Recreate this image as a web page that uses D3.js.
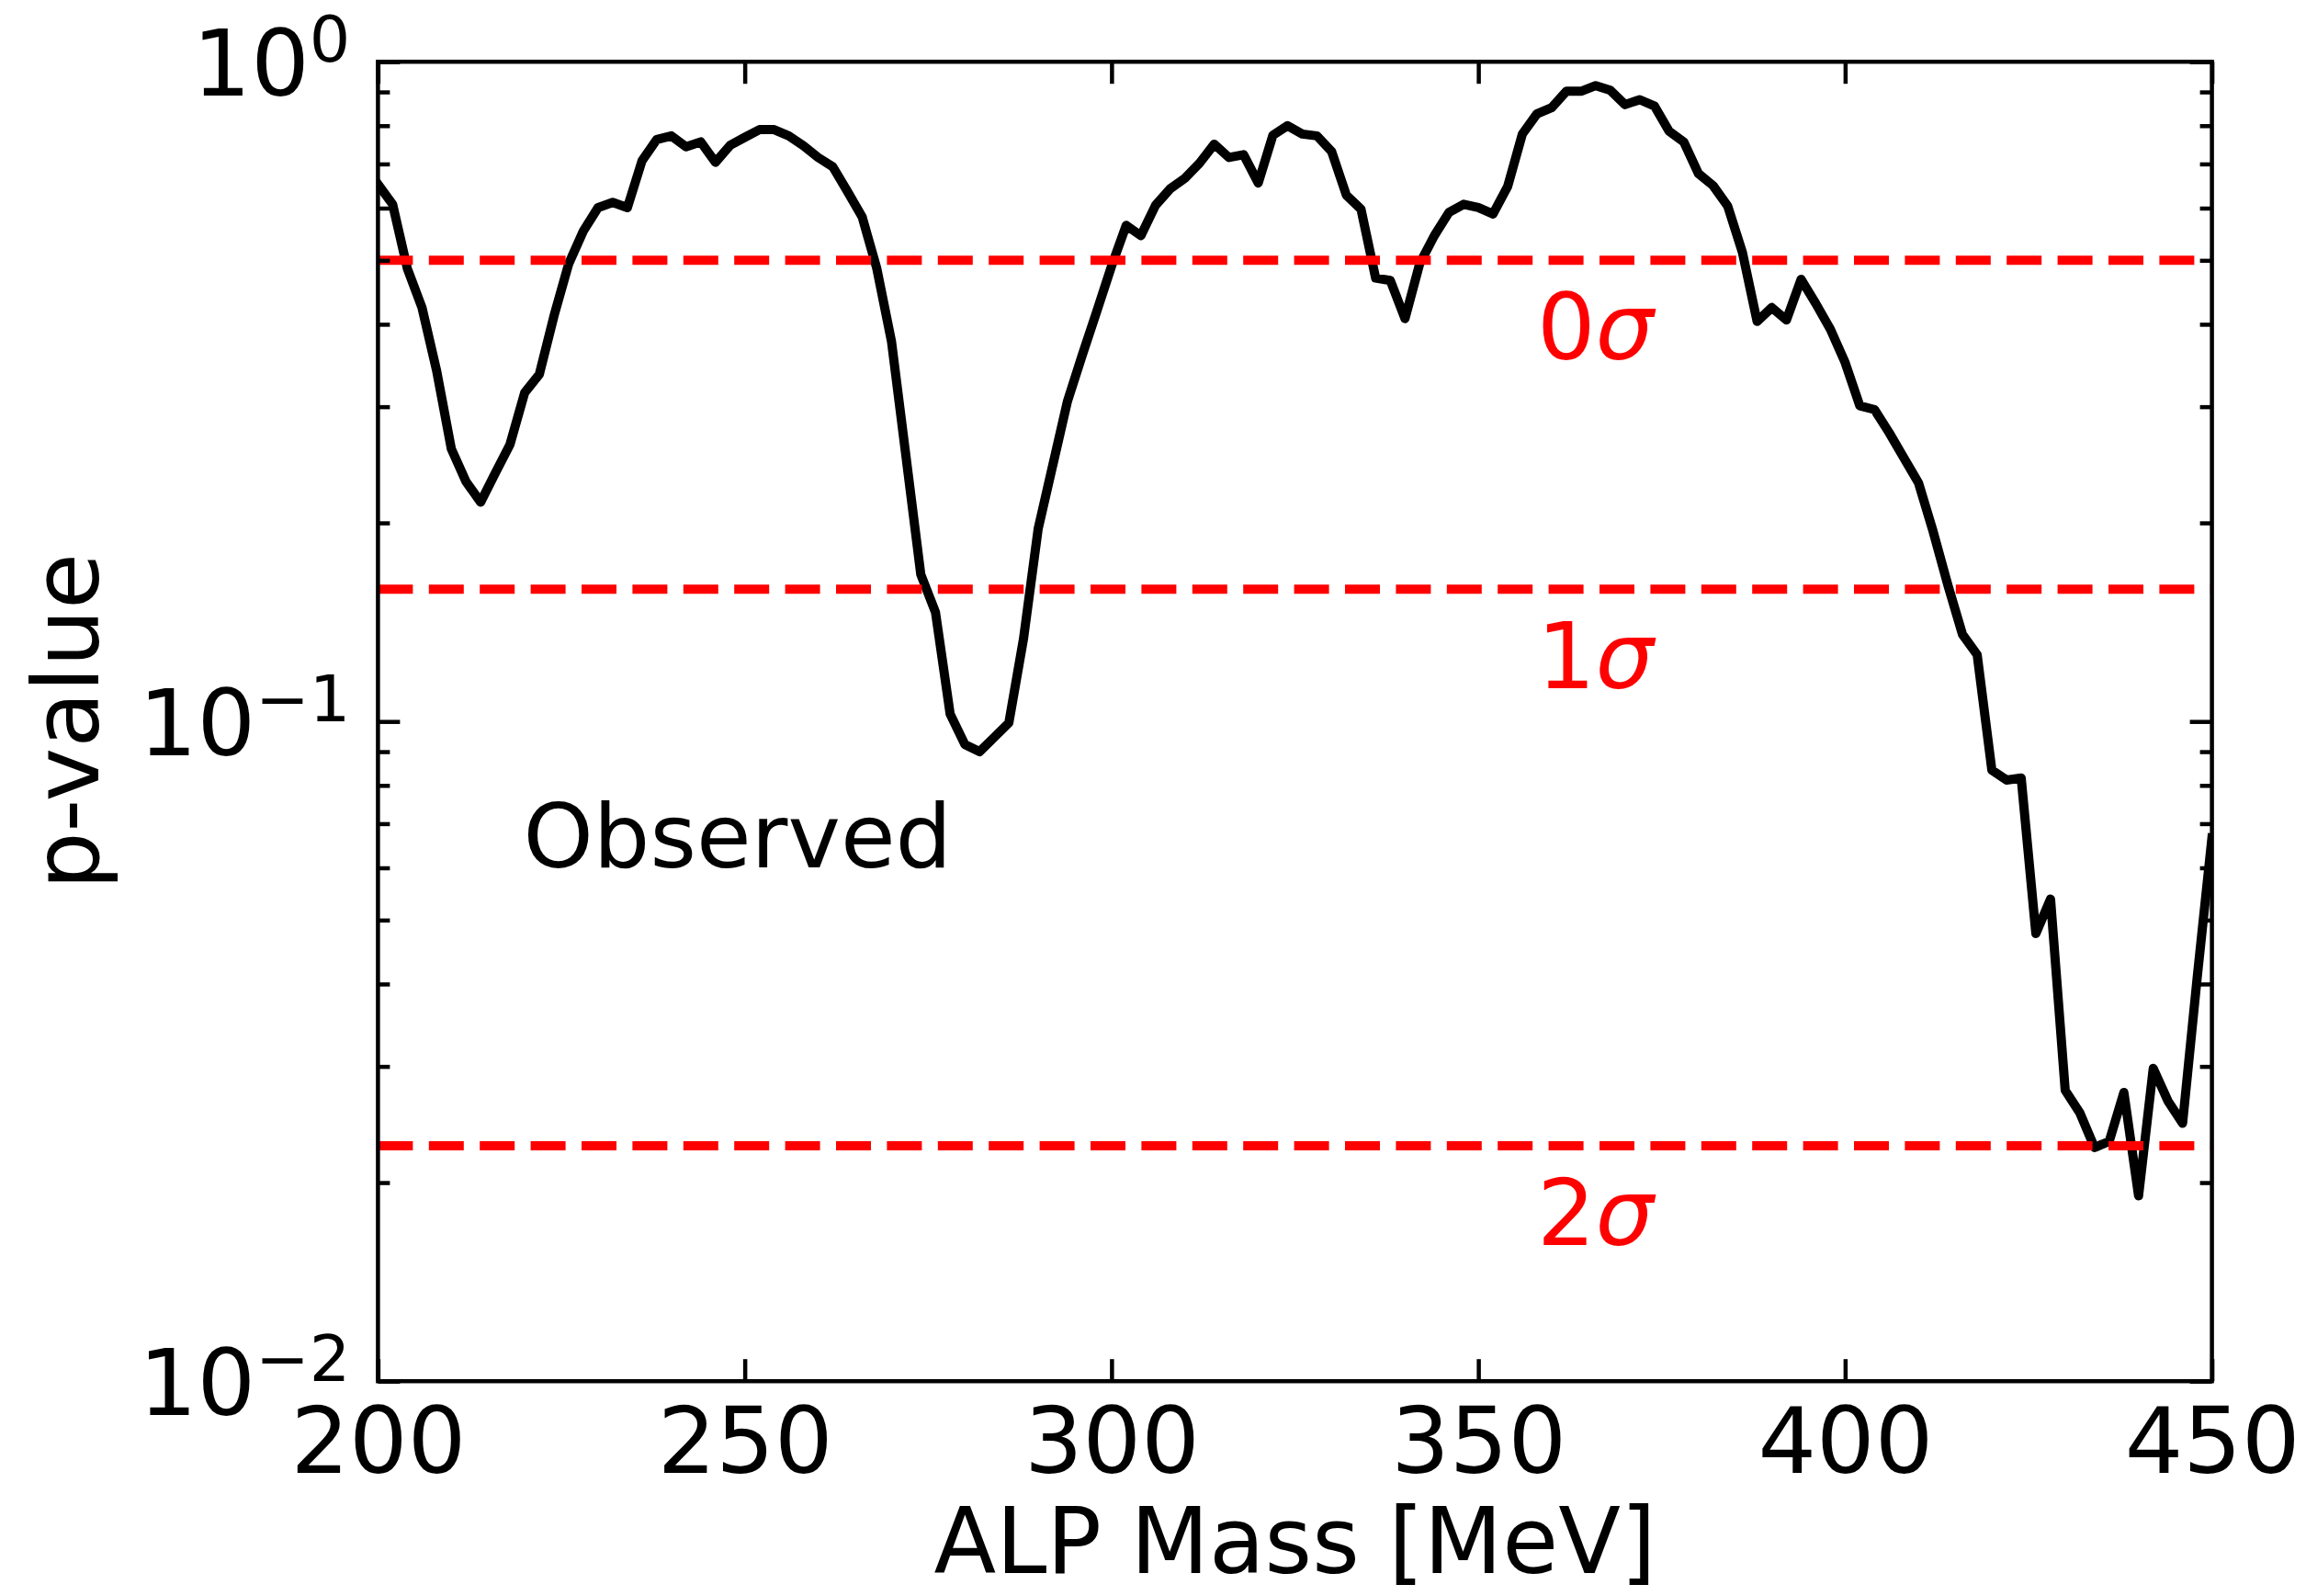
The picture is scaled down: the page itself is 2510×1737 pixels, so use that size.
<!DOCTYPE html>
<html>
<head>
<meta charset="utf-8">
<script src="https://cdn.jsdelivr.net/npm/d3@7"></script>
<style>
  html, body { margin: 0; padding: 0; background: #ffffff; }
  svg { display: block; font-family: "DejaVu Sans", sans-serif; }
</style>
</head>
<body>
<svg id="chart" width="2510" height="1737"></svg>
<script>
// ALP mass scan points [MeV]
const massMeV = [
  200, 202, 204, 206, 208, 210, 212, 214, 216, 218,
  220, 222, 224, 226, 228, 230, 232, 234, 236, 238,
  240, 242, 244, 246, 248, 250, 252, 254, 256, 258,
  260, 262, 264, 266, 268, 270, 272, 274, 276, 278,
  280, 282, 284, 286, 288, 290, 292, 294, 296, 298,
  300, 302, 304, 306, 308, 310, 312, 314, 316, 318,
  320, 322, 324, 326, 328, 330, 332, 334, 336, 338,
  340, 342, 344, 346, 348, 350, 352, 354, 356, 358,
  360, 362, 364, 366, 368, 370, 372, 374, 376, 378,
  380, 382, 384, 386, 388, 390, 392, 394, 396, 398,
  400, 402, 404, 406, 408, 410, 412, 414, 416, 418,
  420, 422, 424, 426, 428, 430, 432, 434, 436, 438,
  440, 442, 444, 446, 448, 450
];

// Observed local p-value at each mass point
const observedP = [
  0.652, 0.608, 0.486, 0.424, 0.340, 0.259, 0.231, 0.215, 0.238, 0.263,
  0.315, 0.336, 0.412, 0.494, 0.554, 0.601, 0.612, 0.601, 0.708, 0.762,
  0.772, 0.743, 0.756, 0.704, 0.747, 0.768, 0.789, 0.789, 0.772, 0.746,
  0.716, 0.693, 0.636, 0.582, 0.486, 0.377, 0.251, 0.167, 0.1464, 0.1026,
  0.0923, 0.0900, 0.0946, 0.0995, 0.1335, 0.196, 0.245, 0.306, 0.359, 0.419,
  0.490, 0.565, 0.545, 0.606, 0.642, 0.666, 0.702, 0.750, 0.716, 0.723,
  0.655, 0.774, 0.800, 0.777, 0.772, 0.731, 0.628, 0.598, 0.470, 0.466,
  0.408, 0.494, 0.545, 0.591, 0.608, 0.601, 0.588, 0.647, 0.777, 0.834,
  0.852, 0.902, 0.902, 0.920, 0.905, 0.861, 0.876, 0.857, 0.785, 0.756,
  0.677, 0.649, 0.604, 0.514, 0.404, 0.424, 0.406, 0.468, 0.430, 0.393,
  0.350, 0.301, 0.297, 0.274, 0.251, 0.230, 0.194, 0.161, 0.1355, 0.1262,
  0.0844, 0.0815, 0.0821, 0.0477, 0.0538, 0.0276, 0.0255, 0.0226, 0.0231, 0.0274,
  0.0191, 0.0298, 0.0266, 0.0246, 0.0410, 0.0666
];

// Significance reference levels (one-sided p-values)
const sigmaNames = ["0", "1", "2"];
const sigmaP = [0.5, 0.1587, 0.02275];

// Axis ticks and labels
const xTicks = [200, 250, 300, 350, 400, 450];
const yDecades = [1, 0.1, 0.01];
const yDecadeExponents = ["0", "\u22121", "\u22122"];
const minorMultipliers = [2, 3, 4, 5, 6, 7, 8, 9];

const curveName = "Observed";
const xTitle = "ALP Mass [MeV]";
const yTitle = "p-value";

// ---- layout ----
const W = 2510, H = 1737;
const margin = { left: 411.4, right: W - 2407.6, top: 67.2, bottom: H - 1503.2 };
const FONT = 100;

const x = d3.scaleLinear().domain([200, 450]).range([margin.left, W - margin.right]);
const y = d3.scaleLog().domain([0.01, 1]).range([H - margin.bottom, margin.top]);

const svg = d3.select("#chart");
svg.append("rect").attr("width", W).attr("height", H).attr("fill", "#ffffff");

svg.append("defs").append("clipPath").attr("id", "plotClip")
  .append("rect")
  .attr("x", x(200)).attr("y", y(1))
  .attr("width", x(450) - x(200)).attr("height", y(0.01) - y(1));

// ---- observed curve ----
const series = massMeV.map((m, i) => ({ m, p: observedP[i] }));
const line = d3.line().x(d => x(d.m)).y(d => y(d.p));

svg.append("path")
  .datum(series)
  .attr("clip-path", "url(#plotClip)")
  .attr("d", line)
  .attr("fill", "none")
  .attr("stroke", "#000000")
  .attr("stroke-width", 10)
  .attr("stroke-linejoin", "round")
  .attr("stroke-linecap", "square");

// ---- sigma reference lines and labels ----
const sig = svg.append("g");
sigmaP.forEach((p, i) => {
  sig.append("line")
    .attr("x1", x(200)).attr("x2", x(450))
    .attr("y1", y(p)).attr("y2", y(p))
    .attr("stroke", "#ff0000")
    .attr("stroke-width", 10)
    .attr("stroke-dasharray", "38,17.4");
  const t = sig.append("text")
    .attr("x", x(358))
    .attr("y", y(p / Math.SQRT2))
    .attr("fill", "#ff0000")
    .attr("font-size", FONT);
  t.append("tspan").text(sigmaNames[i]);
  t.append("tspan").attr("font-style", "italic").text("\u03c3");
});

// ---- curve label ----
svg.append("text")
  .attr("x", x(219.8))
  .attr("y", y(0.06))
  .attr("font-size", 97)
  .attr("fill", "#000000")
  .text(curveName);

// ---- axes ----
const MAJOR = 24, MINOR = 13, TICKW = 4.5;

function styleAxis(g) {
  g.select(".domain").remove();
  g.selectAll(".tick line").attr("stroke", "#000000").attr("stroke-width", TICKW);
}

// bottom
const xBottom = svg.append("g")
  .attr("transform", `translate(0,${y(0.01)})`)
  .call(d3.axisBottom(x).tickValues(xTicks).tickSize(-MAJOR).tickPadding(29).tickFormat(d3.format("d")));
styleAxis(xBottom);
xBottom.selectAll(".tick text").attr("font-size", FONT).attr("font-family", "DejaVu Sans").attr("fill", "#000000");

// top
const xTop = svg.append("g")
  .attr("transform", `translate(0,${y(1)})`)
  .call(d3.axisTop(x).tickValues(xTicks).tickSize(-MAJOR).tickFormat(""));
styleAxis(xTop);

// minor log ticks
const minorTicks = [];
yDecades.slice(1).forEach(dec => minorMultipliers.forEach(k => minorTicks.push(dec * k)));

const yLeftMinor = svg.append("g")
  .attr("transform", `translate(${x(200)},0)`)
  .call(d3.axisLeft(y).tickValues(minorTicks).tickSize(-MINOR).tickFormat(""));
styleAxis(yLeftMinor);

const yRightMinor = svg.append("g")
  .attr("transform", `translate(${x(450)},0)`)
  .call(d3.axisRight(y).tickValues(minorTicks).tickSize(-MINOR).tickFormat(""));
styleAxis(yRightMinor);

const yRightMajor = svg.append("g")
  .attr("transform", `translate(${x(450)},0)`)
  .call(d3.axisRight(y).tickValues(yDecades).tickSize(-MAJOR).tickFormat(""));
styleAxis(yRightMajor);

// left major ticks with 10^n labels
const yLeftMajor = svg.append("g")
  .attr("transform", `translate(${x(200)},0)`)
  .call(d3.axisLeft(y).tickValues(yDecades).tickSize(-MAJOR).tickPadding(30).tickFormat(""));
styleAxis(yLeftMajor);
yLeftMajor.selectAll(".tick text").each(function (d) {
  const i = yDecades.indexOf(d);
  const t = d3.select(this)
    .attr("dy", null)
    .attr("y", 36)
    .attr("font-size", FONT)
    .attr("font-family", "DejaVu Sans")
    .attr("fill", "#000000")
    .text(null);
  t.append("tspan").text("10");
  t.append("tspan").attr("font-size", 70).attr("dy", -37).text(yDecadeExponents[i]);
});

// frame
svg.append("rect")
  .attr("x", x(200)).attr("y", y(1))
  .attr("width", x(450) - x(200)).attr("height", y(0.01) - y(1))
  .attr("fill", "none")
  .attr("stroke", "#000000")
  .attr("stroke-width", TICKW);

// axis titles
svg.append("text")
  .attr("x", (x(200) + x(450)) / 2)
  .attr("y", 1712)
  .attr("text-anchor", "middle")
  .attr("font-size", 99)
  .attr("fill", "#000000")
  .text(xTitle);

svg.append("text")
  .attr("transform", `translate(107,${(y(1) + y(0.01)) / 2}) rotate(-90)`)
  .attr("text-anchor", "middle")
  .attr("font-size", 99)
  .attr("fill", "#000000")
  .text(yTitle);
</script>
</body>
</html>
